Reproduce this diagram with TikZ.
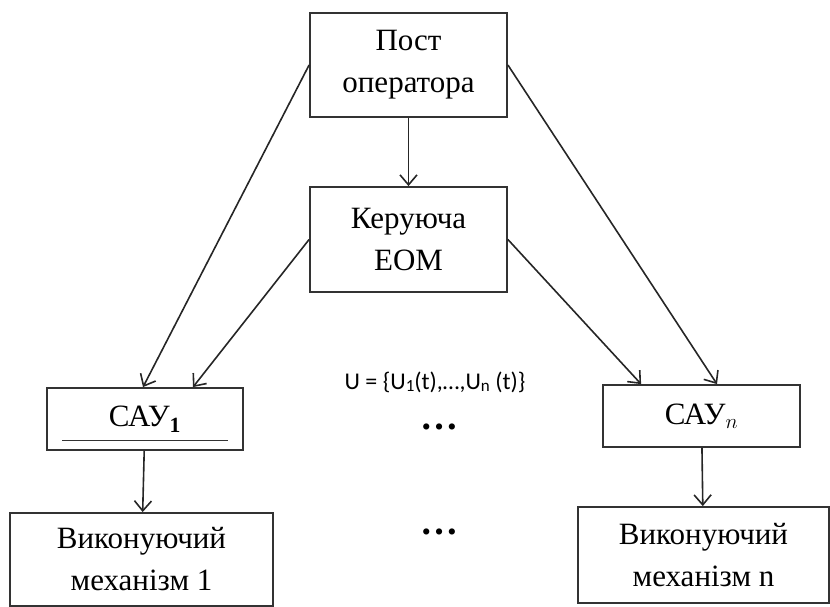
\documentclass[tikz,border=0pt]{standalone}
\usepackage{fontspec}
\setmainfont{Liberation Serif}
\newfontfamily\calib{Carlito}
\usetikzlibrary{arrows.meta,calc}
\begin{document}
\begin{tikzpicture}[x=1pt,y=1pt,
  blk/.style={draw=black!80,line width=1.8pt,align=center,inner sep=0pt,
    font=\fontsize{31}{42}\selectfont},
  arr/.style={draw=black!85,line width=1.6pt,-{Straight Barb[length=10pt,width=17pt,line width=1.6pt]}}]
\useasboundingbox (0,0) rectangle (830,-607);
\node[blk,minimum width=197pt,minimum height=104pt] (post) at (408.5,-65) {Пост\\оператора};
\node[blk,minimum width=197pt,minimum height=105pt] (ker) at (408.5,-239.5) {Керуюча\\ЕОМ};
\node[blk,minimum width=196pt,minimum height=62pt] (sau1) at (145,-419) {САУ$_{\mathbf{1}}$};
\node[blk,minimum width=197pt,minimum height=62pt] (saun) at (701.5,-416) {САУ$_{n}$};
\node[blk,minimum width=263pt,minimum height=93pt] (v1) at (141.5,-559.5) {Виконуючий\\механізм 1};
\node[blk,minimum width=251pt,minimum height=96pt] (vn) at (703.5,-555) {Виконуючий\\механізм n};
\draw[black!80,line width=1.1pt] ([shift={(16pt,10pt)}]sau1.south west) -- ([shift={(-16pt,10pt)}]sau1.south east);
\draw[arr] (post) -- (ker);
\draw[arr] (post.west) -- ([xshift=-2pt]sau1.north);
\draw[arr] (ker.west) -- ([xshift=48pt]sau1.north);
\draw[arr] (ker.east) -- ([xshift=39pt]saun.north west);
\draw[arr] (post.east) -- ([xshift=15.5pt]saun.north);
\draw[arr] (sau1) -- (v1);
\draw[arr] (saun) -- (vn);
\node (u) at (435,-382) {\calib\fontsize{24}{28}\selectfont U = \{U\raisebox{-0.2ex}{\fontsize{17}{18}\selectfont 1}(t),…,U\raisebox{-0.2ex}{\fontsize{17}{18}\selectfont n} (t)\}};
\node[anchor=base,font=\fontsize{38}{38}\selectfont\bfseries] (d1) at (439,-429) {…};
\node[anchor=base,font=\fontsize{38}{38}\selectfont\bfseries] (d2) at (439,-534) {…};
\end{tikzpicture}
\end{document}
